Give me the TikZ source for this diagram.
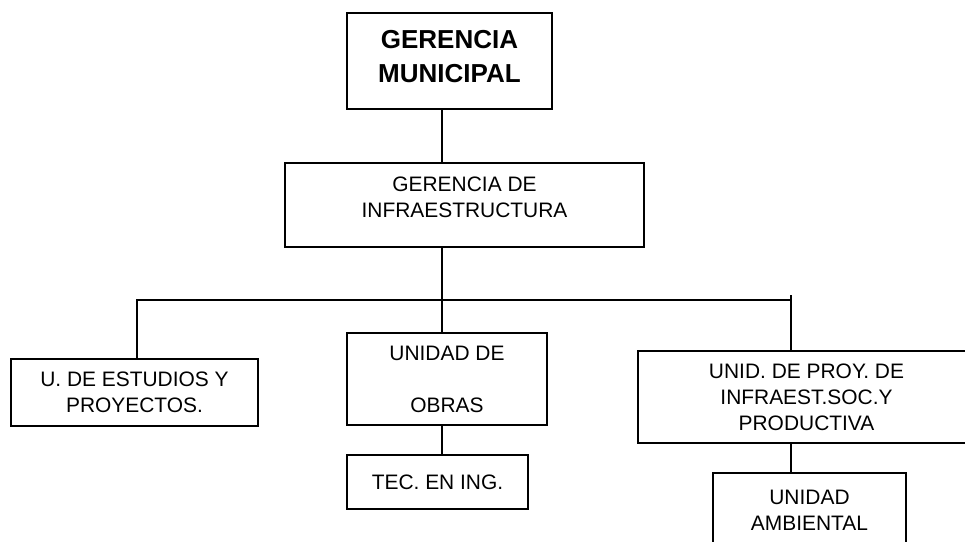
\documentclass[tikz,border=0pt]{standalone}
\usepackage{fontspec}
\setmainfont{Liberation Sans}

\begin{document}
\begin{tikzpicture}[x=0.75pt,y=-0.75pt]
  \tikzset{
    unit/.style={draw, line width=1.5pt, inner sep=0pt, align=center,
      font=\fontsize{15.7}{19.5}\selectfont},
    head/.style={unit, font=\fontsize{19.5}{26}\selectfont\bfseries},
    boxsize/.style 2 args={minimum width=#1*0.75pt, minimum height=#2*0.75pt},
    link/.style={line width=1.5pt}
  }
  \clip (0,0) rectangle (965,542);

  \node[head, boxsize={205}{96}, text depth=7pt] (gm) at (449.5,61) {GERENCIA\\MUNICIPAL};
  \node[unit, boxsize={359}{84}, text depth=11pt] (gi) at (464.5,205) {GERENCIA DE\\INFRAESTRUCTURA};

  % three units hang from the bus
  \node[unit, boxsize={247}{67}] (ue) at (134.5,392.5) {U. DE ESTUDIOS Y\\PROYECTOS.};
  \node[unit, boxsize={200}{92}] (uo) at (447,379) {UNIDAD DE\\[19.5pt]OBRAS};
  \node[unit, boxsize={337}{92}] (up) at (806.5,397) {UNID. DE PROY. DE\\INFRAEST.SOC.Y\\PRODUCTIVA};
  \node[unit, boxsize={181}{54}] (tec) at (437.5,482) {TEC. EN ING.};
  \node[unit, boxsize={193}{74}] (ua) at (809.5,510) {UNIDAD\\AMBIENTAL};

  \coordinate (busM) at (442,300);
  \coordinate (busL) at (137,300);
  \coordinate (busR) at (791,300);
  \coordinate (busRtop) at (791,295);

  \draw[link] (gm.south -| busM) -- (gi.north -| busM);
  \draw[link] (gi.south -| busM) -- (busM);
  \draw[link] (ue.north -| busL) -- (busL) -- (busR);
  \draw[link] (busRtop) -- (up.north -| busR);
  \draw[link] (busM) -- (uo.north -| busM);
  \draw[link] (uo.south -| busM) -- (tec.north -| busM);
  \draw[link] (up.south -| busR) -- (ua.north -| busR);
\end{tikzpicture}
\end{document}
